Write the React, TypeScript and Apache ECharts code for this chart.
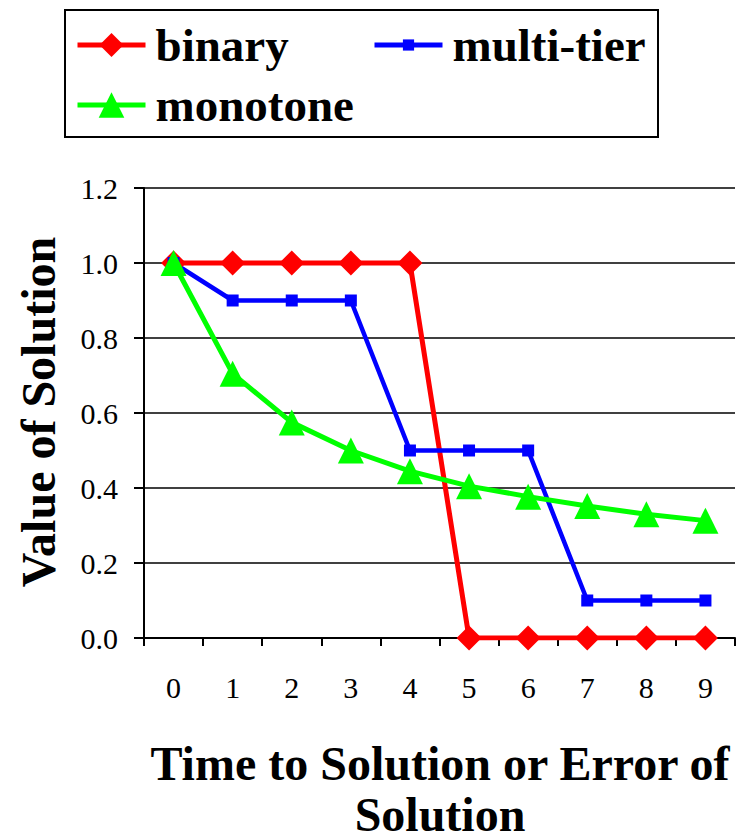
import React, { useEffect, useRef } from "react";
import * as echarts from "echarts";

const categories = ["0", "1", "2", "3", "4", "5", "6", "7", "8", "9"];
const binary = [1, 1, 1, 1, 1, 0, 0, 0, 0, 0];
const multiTier = [1, 0.9, 0.9, 0.9, 0.5, 0.5, 0.5, 0.1, 0.1, 0.1];
const monotone = [1, 0.705, 0.575, 0.5, 0.445, 0.405, 0.377, 0.352, 0.33, 0.313];
const seriesNames = ["binary", "multi-tier", "monotone"];
const yAxisTitle = "Value of Solution";
const xAxisTitleLines = ["Time to Solution or Error of", "Solution"];

const FONT = "Liberation Serif";

export default function App() {
  const ref = useRef<HTMLDivElement>(null);
  useEffect(() => {
    if (!ref.current) return;
    const chart = echarts.init(ref.current, null, { renderer: "svg" });
    const legendText = {
      fontFamily: FONT,
      fontWeight: "bold" as const,
      fontSize: 47,
      color: "#000",
      lineHeight: 50,
      padding: [0, 0, 0, 5],
    };
    const legendBase = {
      padding: 0,
      itemWidth: 68,
      textStyle: legendText,
      lineStyle: { width: 5 },
    };
    const titleStyle = {
      fontFamily: FONT,
      fontWeight: "bold" as const,
      fontSize: 48,
      lineHeight: 34,
      fill: "#000",
      align: "center" as const,
      verticalAlign: "middle" as const,
    };
    chart.setOption({
      animation: false,
      backgroundColor: "#fff",
      graphic: [
        {
          type: "rect",
          shape: { x: 65, y: 10, width: 593, height: 127 },
          style: { fill: "#fff", stroke: "#000", lineWidth: 2 },
          z: -1,
        },
        {
          type: "text",
          x: 38,
          y: 412,
          rotation: Math.PI / 2,
          style: { ...titleStyle, text: yAxisTitle },
        },
        {
          type: "text",
          x: 440,
          y: 763,
          style: { ...titleStyle, text: xAxisTitleLines[0] },
        },
        {
          type: "text",
          x: 440,
          y: 814,
          style: { ...titleStyle, text: xAxisTitleLines[1] },
        },
      ],
      legend: [
        { ...legendBase, data: [seriesNames[0]], left: 75, top: 20, itemHeight: 30 },
        { ...legendBase, data: [seriesNames[1]], left: 372, top: 20, itemHeight: 14 },
        { ...legendBase, data: [seriesNames[2]], left: 75, top: 80, itemHeight: 32 },
      ],
      grid: { left: 144, top: 188, width: 591, height: 450, containLabel: false },
      xAxis: {
        type: "category",
        data: categories,
        boundaryGap: true,
        axisLine: { lineStyle: { color: "#000", width: 2 } },
        axisTick: { show: true, inside: false, length: 8, interval: 0, lineStyle: { color: "#000", width: 2 } },
        axisLabel: { color: "#000", fontFamily: FONT, fontSize: 30, margin: 34, interval: 0 },
        splitLine: { show: false },
      },
      yAxis: {
        type: "value",
        min: 0,
        max: 1.2,
        interval: 0.2,
        axisLine: { show: true, lineStyle: { color: "#000", width: 2 } },
        axisTick: { show: true, length: 10, lineStyle: { color: "#000", width: 2 } },
        axisLabel: {
          color: "#000",
          fontFamily: FONT,
          fontSize: 30,
          margin: 26,
          formatter: (v: number) => v.toFixed(1),
        },
        splitLine: { show: true, lineStyle: { color: "#000", width: 1.5 } },
      },
      series: [
        {
          name: seriesNames[0],
          type: "line",
          data: binary,
          symbol: "diamond",
          symbolSize: 25,
          itemStyle: { color: "#FF0000" },
          lineStyle: { color: "#FF0000", width: 5 },
        },
        {
          name: seriesNames[1],
          type: "line",
          data: multiTier,
          symbol: "rect",
          symbolSize: 12,
          itemStyle: { color: "#0000FF" },
          lineStyle: { color: "#0000FF", width: 4.5 },
        },
        {
          name: seriesNames[2],
          type: "line",
          data: monotone,
          symbol: "triangle",
          symbolSize: 26,
          itemStyle: { color: "#00FF00" },
          lineStyle: { color: "#00FF00", width: 5 },
        },
      ],
    });
    return () => chart.dispose();
  }, []);
  return <div ref={ref} style={{ width: 742, height: 840, position: "absolute", left: 0, top: 0 }} />;
}
